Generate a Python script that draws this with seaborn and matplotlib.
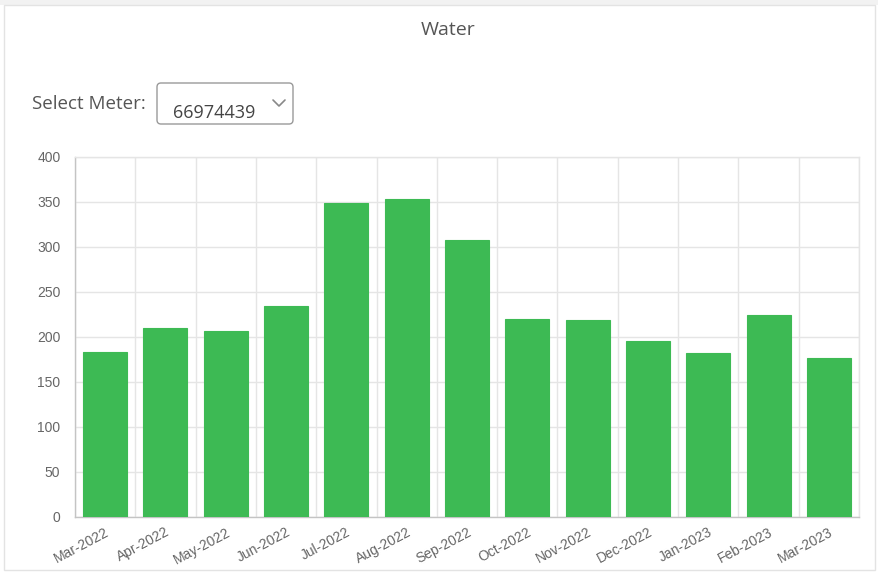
import matplotlib.pyplot as plt
import numpy as np
import pandas as pd
import seaborn as sns
from matplotlib.patches import FancyBboxPatch, Rectangle


months = [
    "Mar-2022", "Apr-2022", "May-2022", "Jun-2022", "Jul-2022", "Aug-2022", "Sep-2022",
    "Oct-2022", "Nov-2022", "Dec-2022", "Jan-2023", "Feb-2023", "Mar-2023",
]
usage = [183, 210, 207, 234, 349, 353, 308, 220, 219, 195, 182, 224, 177]
y_ticks = [0, 50, 100, 150, 200, 250, 300, 350, 400]

chart_title = "Water"
meter_label = "Select Meter:"
meter_id = "66974439"

BAR_GREEN = "#3dba54"
TEXT_GREY = "#666666"
GRID_GREY = "#e5e5e5"
AXIS_GREY = "#c4c4c4"
UI_FONT = ["Open Sans", "DejaVu Sans"]
W, H = 879, 575


def draw_chart() -> None:
    sns.set_style("white")
    plt.rcParams["font.family"] = ["Liberation Sans", "DejaVu Sans"]

    fig = plt.figure(figsize=(W / 100, H / 100), dpi=100)
    fig.patch.set_facecolor("white")

    # page decorations in pixel coordinates
    deco = fig.add_axes([0, 0, 1, 1], zorder=0)
    deco.set_xlim(0, W)
    deco.set_ylim(H, 0)
    deco.axis("off")
    deco.add_patch(Rectangle((0, 0), W, 5, facecolor="#f2f2f2", edgecolor="none"))
    deco.add_patch(Rectangle((4, 5), W - 8, H - 10, facecolor="white", edgecolor="#e3e3e3", linewidth=1))
    deco.text(448, 30, chart_title, ha="center", va="center", fontsize=14,
              color="#555555", family=UI_FONT)
    deco.text(32, 104, meter_label, ha="left", va="center", fontsize=13.5,
              color="#555555", family=UI_FONT)
    deco.add_patch(FancyBboxPatch((157, 83), 136, 41, boxstyle="round,pad=0,rounding_size=4",
                                  facecolor="white", edgecolor="#9a9a9a", linewidth=1))
    deco.text(173, 113, meter_id, ha="left", va="center", fontsize=13,
              color="#444444", family=UI_FONT)
    deco.plot([273, 279, 285], [100, 106, 100], color="#888888", linewidth=1.2)

    ax = fig.add_axes([75 / W, 58.3 / H, (859 - 75) / W, (517 - 157.3) / H], zorder=1)
    data = pd.DataFrame({"month": months, "usage": usage})
    sns.barplot(data=data, x="month", y="usage", color=BAR_GREEN, saturation=1,
                width=0.73, edgecolor=BAR_GREEN, linewidth=0.8, ax=ax, zorder=3)

    n = len(months)
    ax.set_xlim(-0.5, n - 0.5)
    ax.set_ylim(0, 400)
    ax.set_yticks(y_ticks)
    ax.set_xticks(np.arange(n))
    ax.set_xticks(np.arange(n + 1) - 0.5, minor=True)
    ax.set_xticklabels(months, rotation=28, ha="right", rotation_mode="anchor")
    ax.set_xlabel("")
    ax.set_ylabel("")

    ax.grid(False)
    ax.grid(True, axis="y", which="major", color=GRID_GREY, linewidth=1, zorder=0)
    ax.grid(True, axis="x", which="minor", color=GRID_GREY, linewidth=1, zorder=0)
    ax.set_axisbelow(True)

    ax.tick_params(axis="x", which="major", length=0, pad=6, labelsize=10, labelcolor=TEXT_GREY)
    ax.tick_params(axis="x", which="minor", length=8, width=1, color=GRID_GREY, direction="out")
    ax.tick_params(axis="y", which="major", length=7, width=1, color=GRID_GREY, direction="out",
                   pad=3.5, labelsize=10, labelcolor=TEXT_GREY)

    for side in ("left", "bottom"):
        ax.spines[side].set_color(AXIS_GREY)
        ax.spines[side].set_linewidth(1)
    for side in ("top", "right"):
        ax.spines[side].set_color(GRID_GREY)
        ax.spines[side].set_linewidth(1)

    fig.savefig("out.png", dpi=100, facecolor="white")
    plt.close(fig)


if __name__ == "__main__":
    draw_chart()
